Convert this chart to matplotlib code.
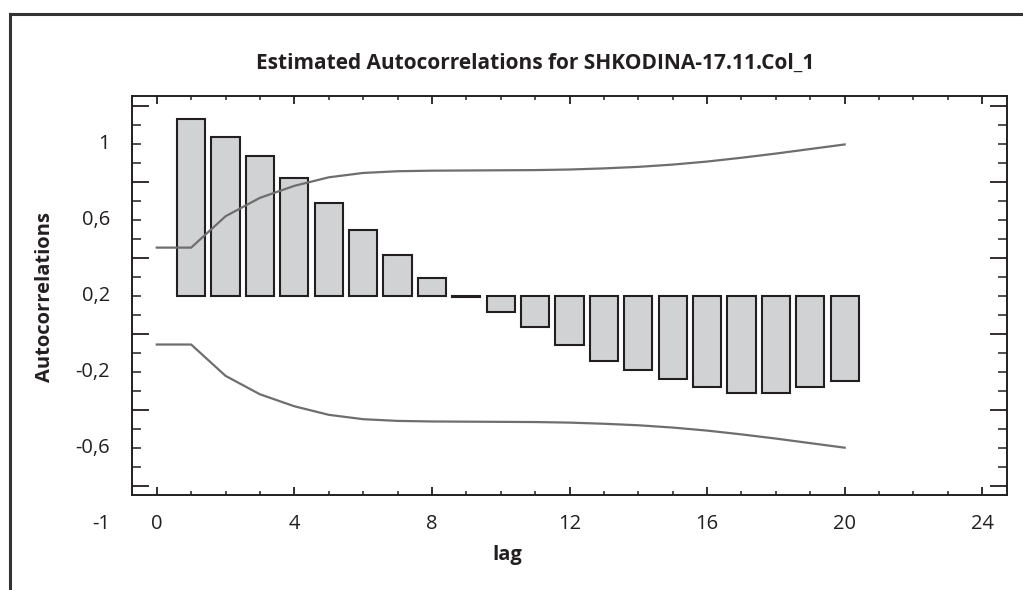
import matplotlib
matplotlib.use('Agg')
import matplotlib.pyplot as plt
from matplotlib.lines import Line2D
import numpy as np

# data
lags = np.arange(1, 21)
acfEnds = [1.130, 1.035, 0.937, 0.819, 0.688, 0.547, 0.417, 0.295, 0.196, 0.117,
           0.035, -0.060, -0.140, -0.189, -0.234, -0.277, -0.309, -0.309, -0.281, -0.247]
barBase = 0.2
limitLags = np.arange(0, 21)
limitHalf = [0.255, 0.255, 0.420, 0.517, 0.580, 0.625, 0.648, 0.657, 0.660, 0.661, 0.662,
             0.663, 0.666, 0.672, 0.680, 0.692, 0.708, 0.728, 0.750, 0.774, 0.798]
yLabelValues = [1, 0.6, 0.2, -0.2, -0.6, -1]
yLabelTexts = ['1', '0,6', '0,2', '-0,2', '-0,6', '-1']
xTicks = [0, 4, 8, 12, 16, 20, 24]

titleText = 'Estimated Autocorrelations for SHKODINA-17.11.Col_1'
dark = '#231f20'
lineGray = '#6e6e6e'
barFill = '#d1d2d4'

plt.rcParams['font.family'] = ['Open Sans', 'DejaVu Sans']

W, H = 1023, 590
fig = plt.figure(figsize=(W / 100, H / 100), dpi=100)
ax = fig.add_axes([132 / W, 1 - 495 / H, 875 / W, 399 / H])

heights = np.array(acfEnds) - barBase
ax.bar(lags, heights, bottom=barBase, width=0.82, color=barFill,
       edgecolor=dark, linewidth=1.5, zorder=2)

upper = barBase + np.array(limitHalf)
lower = barBase - np.array(limitHalf)
ax.plot(limitLags, upper, color=lineGray, linewidth=1.6, zorder=3)
ax.plot(limitLags, lower, color=lineGray, linewidth=1.6, zorder=3)

ax.set_xlim(-0.72, 24.72)
ax.set_ylim(-0.847, 1.253)

ax.set_xticks(xTicks)
ax.set_xticks(np.arange(0, 25, 1), minor=True)
ax.set_xticklabels([str(t) for t in xTicks])
ax.set_yticks([-0.8, -0.4, 0.0, 0.4, 0.8, 1.2])
ax.set_yticks(np.arange(-0.8, 1.25, 0.1), minor=True)
ax.set_yticklabels([])

ax.tick_params(axis='x', which='major', direction='in', length=6, width=1.3,
               top=True, bottom=True, color=dark, labelsize=14.5, pad=14,
               labelcolor=dark)
ax.tick_params(axis='x', which='minor', direction='in', length=3, width=1.1,
               top=True, bottom=True, color=dark)
ax.tick_params(axis='y', which='major', direction='in', length=12, width=1.3,
               left=True, right=True, color=dark)
ax.tick_params(axis='y', which='minor', direction='in', length=6.5, width=1.1,
               left=True, right=True, color=dark)

for v, t in zip(yLabelValues, yLabelTexts):
    ax.annotate(t, xy=(0, v), xycoords=('axes fraction', 'data'),
                xytext=(-16, 0), textcoords='offset points',
                ha='right', va='center', fontsize=14.5, color=dark,
                annotation_clip=False)

for s in ax.spines.values():
    s.set_color(dark)
    s.set_linewidth(1.4)

fig.text(535 / W, 1 - 63 / H, titleText, ha='center', va='center',
         fontsize=15, fontweight='bold', color=dark)
fig.text(507 / W, 1 - 555 / H, 'lag', ha='center', va='center',
         fontsize=14.5, fontweight='bold', color=dark)
fig.text(45 / W, 1 - 297 / H, 'Autocorrelations', ha='center', va='center',
         rotation=90, fontsize=14.5, fontweight='bold', color=dark)

# outer frame lines (left and top)
fig.add_artist(Line2D([10 / W, 10 / W], [0, 1 - 14 / H], color='#333333',
                      linewidth=2.2, transform=fig.transFigure))
fig.add_artist(Line2D([10 / W, 1], [1 - 14 / H, 1 - 14 / H], color='#333333',
                      linewidth=2.2, transform=fig.transFigure))

fig.savefig('out.png', dpi=100)
